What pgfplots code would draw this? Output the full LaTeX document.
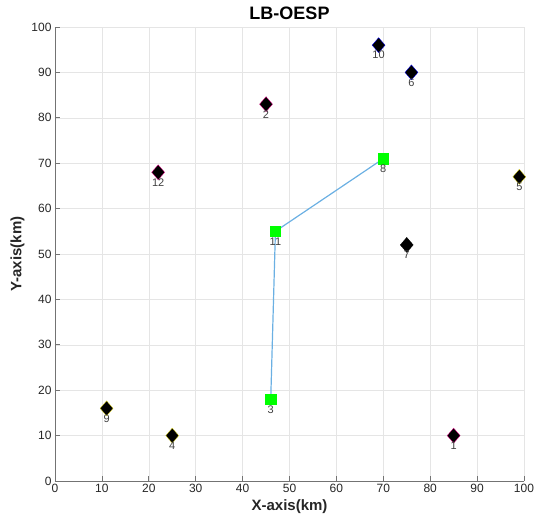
\documentclass[border=0pt]{standalone}
\usepackage{fontspec}
\setmainfont{Liberation Sans}
\usepackage{pgfplots}
\pgfplotsset{compat=1.18}
\definecolor{mlblue}{rgb}{0.42,0.69,0.89}
\definecolor{tickgray}{rgb}{0.15,0.15,0.15}
\definecolor{labgray}{rgb}{0.25,0.25,0.25}
\definecolor{mlgreen}{rgb}{0,1,0}
\begin{document}
\begin{tikzpicture}
\begin{axis}[
 at={(0,0)}, anchor=south west,
 scale only axis, width=469pt, height=454pt,
 xmin=0, xmax=100, ymin=0, ymax=100,
 xtick={0,10,...,100}, ytick={0,10,...,100},
 axis x line*=bottom, axis y line*=left,
 axis line style={color=black!55, line width=0.7pt},
 tick align=inside, major tick length=5pt,
 tick style={black!55, line width=0.7pt},
 grid=major, grid style={black!10, line width=0.5pt},
 ticklabel style={font=\fontsize{12}{14}\selectfont, text=tickgray},
 /pgf/number format/assume math mode=true,
 title={LB-OESP},
 title style={font=\fontsize{18}{20}\selectfont\bfseries, yshift=-2pt},
 xlabel={X-axis(km)}, ylabel={Y-axis(km)},
 label style={font=\fontsize{15}{17}\selectfont\bfseries, text=tickgray},
 clip=false,
 every node near coord/.append style={anchor=center, yshift=-10pt, inner sep=0pt, font=\fontsize{11}{12}\selectfont, text=labgray},
 dia/.style={only marks, mark=diamond*, mark size=7.5pt,
   mark options={xscale=1.15, fill=black, draw=#1, line width=0.3pt},
   nodes near coords, point meta=explicit symbolic},
]
\addplot[mlblue, line width=1.2pt] coordinates {(70,71) (47,55) (46,18)};
\addplot[dia=magenta] table[meta=l] {
x y l
85 10 1
45 83 2
22 68 12
};
\addplot[dia=blue] table[meta=l] {
x y l
69 96 10
76 90 6
};
\addplot[dia=yellow!90!black] table[meta=l] {
x y l
25 10 4
11 16 9
99 67 5
};
\addplot[dia=black] table[meta=l] {
x y l
75 52 7
};
\addplot[only marks, mark=square*, mark size=5.2pt,
  mark options={fill=mlgreen, draw=mlgreen},
  nodes near coords, point meta=explicit symbolic]
  table[meta=l] {
x y l
46 18 3
47 55 11
70 71 8
};
\end{axis}
\pgfresetboundingbox
\path[use as bounding box] (-55pt,-42pt) rectangle (479pt,481pt);
\end{tikzpicture}
\end{document}
